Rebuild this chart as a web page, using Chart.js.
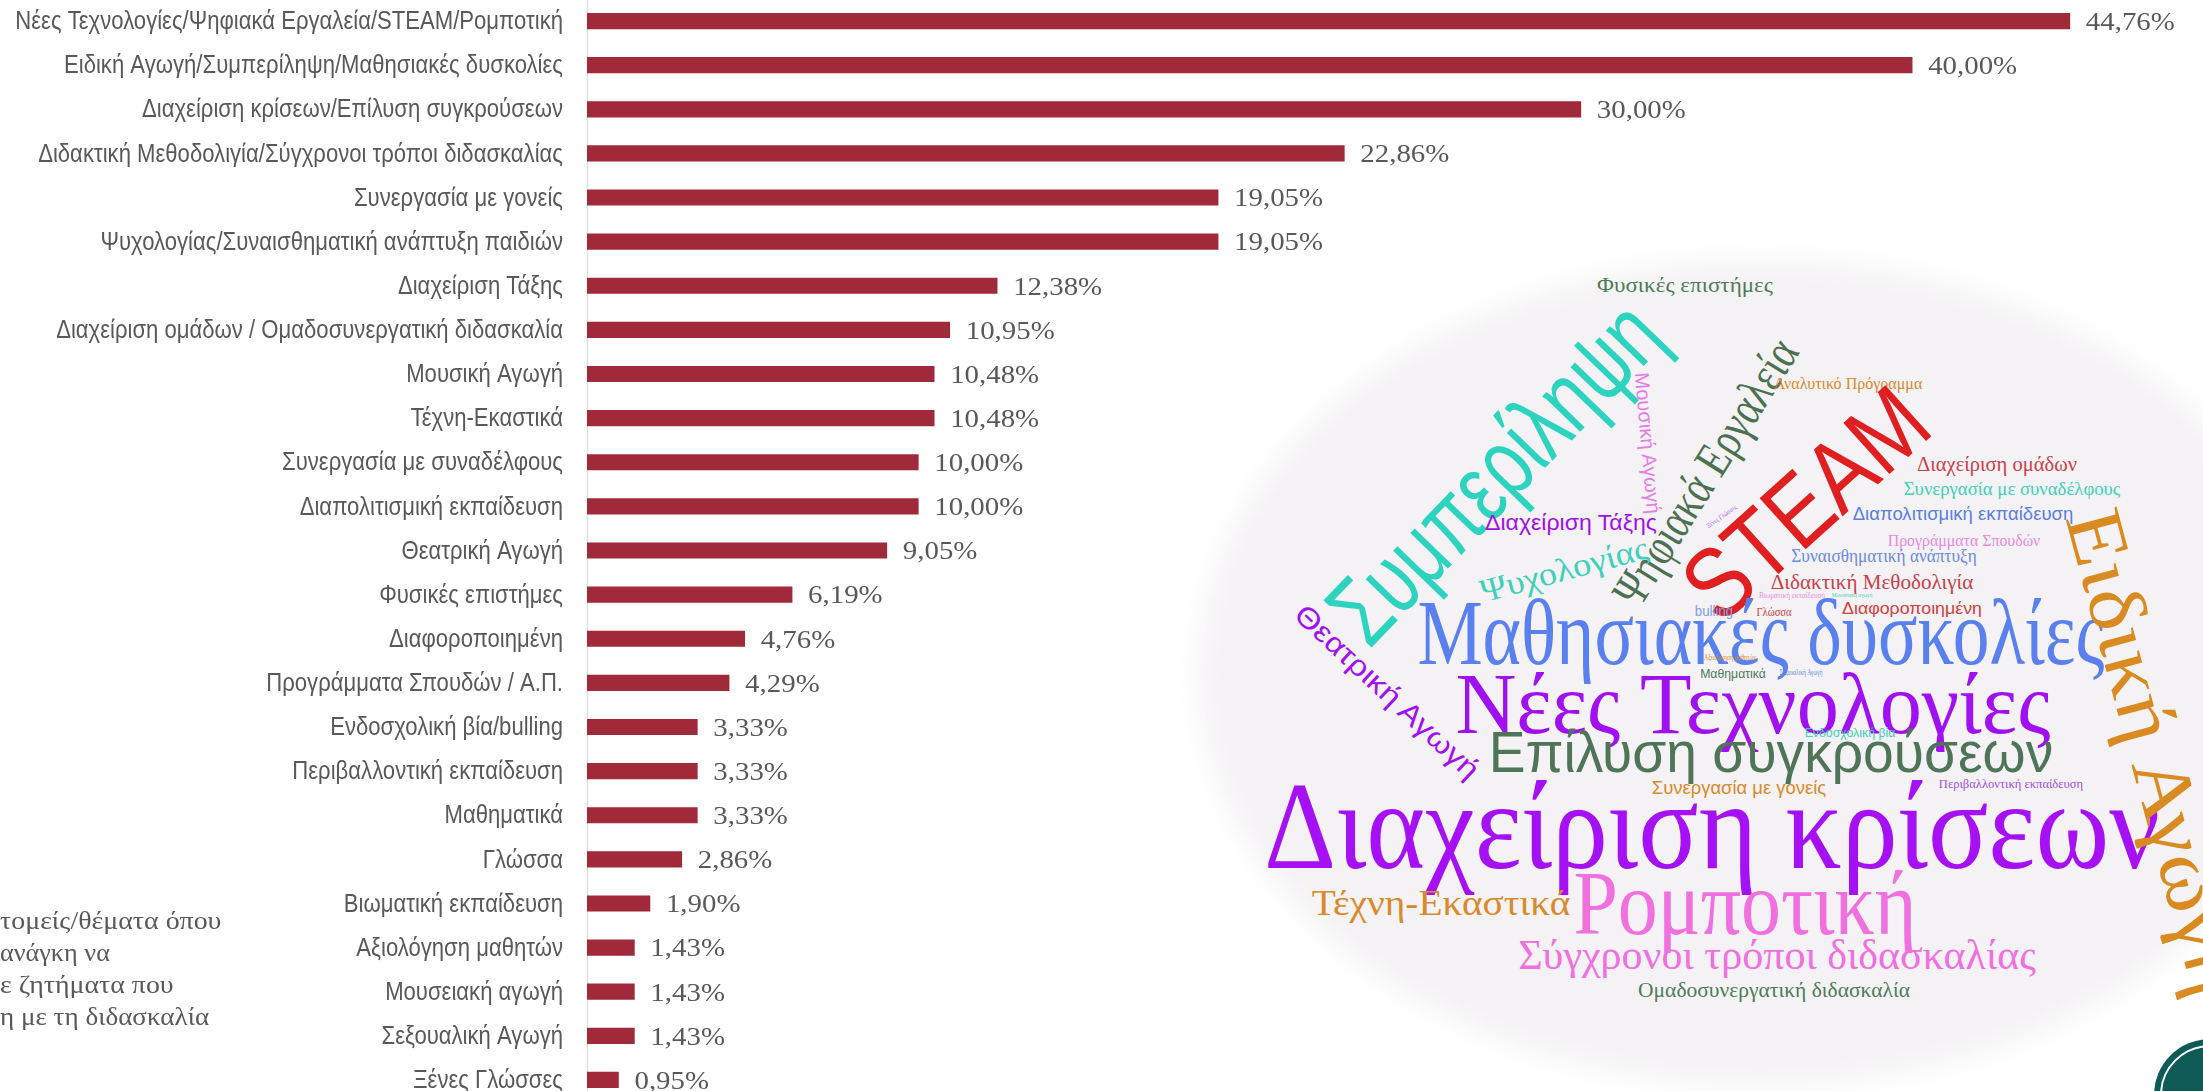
<!DOCTYPE html>
<html lang="el">
<head>
<meta charset="utf-8">
<title>Τομείς επιμόρφωσης</title>
<script src="https://cdn.jsdelivr.net/npm/chart.js@4"></script>
<style>
    html, body { margin: 0; padding: 0; background: #fff; }
    #stage { position: relative; width: 2203px; height: 1091px; overflow: hidden; background: #fff; }
    #oval { position: absolute; left: 1200px; top: 262px; width: 1120px; height: 822px; border-radius: 50%; background: #f4f2f4; filter: blur(14px); }
    #corner { position: absolute; left: 2154px; top: 1039px; width: 112px; height: 112px; border-radius: 50%; background: #0e5a56; }
    #corner::after { content: ''; position: absolute; left: 6px; top: 6px; right: 6px; bottom: 6px; border-radius: 50%; border: 2px solid #fff; }
    #chart { position: absolute; left: 0; top: -1px; }
    .w { position: absolute; white-space: nowrap; line-height: 1; }
    .s { font-family: "Liberation Serif", serif; }
    .n { font-family: "Liberation Sans", sans-serif; }
    .side { position: absolute; left: 0; white-space: nowrap; line-height: 1; color: #595959; font-family: "Liberation Serif", serif; font-size: 25px; transform-origin: 0 50%; }
</style>
</head>
<body>
<div id="stage">
    <div id="oval"></div>
    <div id="corner"></div>

    <div class="side" data-w="221" style="top:908px">τομείς/θέματα όπου</div>
    <div class="side" data-w="110" style="top:940px">ανάγκη να</div>
    <div class="side" data-w="174" style="top:972px">ε ζητήματα που</div>
    <div class="side" data-w="209" style="top:1004px">η με τη διδασκαλία</div>

    <div id="cloud">
        <span class="w s" data-w="176" style="left:1685px;top:285px;font-size:21px;color:#4f7a5a">Φυσικές επιστήμες</span>
        <span class="w n" data-w="430" data-a="-46" style="left:1494px;top:472px;font-size:98px;color:#2ed3c0">Συμπερίληψη</span>
        <span class="w n" data-w="142" data-a="85" style="left:1648px;top:443px;font-size:20px;color:#e67ae6">Μουσική Αγωγή</span>
        <span class="w s" data-w="305" data-a="-58" style="left:1705px;top:472px;font-size:50px;color:#4c7052">Ψηφιακά Εργαλεία</span>
        <span class="w s" data-w="149" style="left:1848px;top:383px;font-size:17px;color:#d98a2b">Αναλυτικό Πρόγραμμα</span>
        <span class="w n" data-w="290" data-a="-42" style="left:1805px;top:503px;font-size:100px;color:#e02020">STEAM</span>
        <span class="w s" data-w="160" style="left:1997px;top:464px;font-size:20px;color:#c9404a">Διαχείριση ομάδων</span>
        <span class="w s" data-w="217" style="left:2012px;top:488px;font-size:19px;color:#3fd0b8">Συνεργασία με συναδέλφους</span>
        <span class="w n" data-w="220" style="left:1963px;top:514px;font-size:18px;color:#5a7fe0">Διαπολιτισμική εκπαίδευση</span>
        <span class="w s" data-w="153" style="left:1964px;top:540px;font-size:17px;color:#e88ae0">Προγράμματα Σπουδών</span>
        <span class="w s" data-w="185" style="left:1884px;top:556px;font-size:18px;color:#6a8be0">Συναισθηματική ανάπτυξη</span>
        <span class="w s" data-w="203" style="left:1872px;top:582px;font-size:21px;color:#c9404a">Διδακτική Μεθοδολιγία</span>
        <span class="w s" data-w="66" style="left:1792px;top:596px;font-size:8px;color:#e88ae0">Βιωματική εκπαίδευση</span>
        <span class="w s" data-w="41" style="left:1852px;top:595px;font-size:7px;color:#3fd0b8">Μουσειακή αγωγή</span>
        <span class="w n" data-w="38" style="left:1714px;top:610px;font-size:15px;color:#7aa0e8">bulling</span>
        <span class="w s" data-w="35" style="left:1774px;top:611px;font-size:13px;color:#c9404a">Γλώσσα</span>
        <span class="w n" data-w="140" style="left:1912px;top:608px;font-size:17px;color:#d04040">Διαφοροποιημένη</span>
        <span class="w s" data-w="687" style="left:1761px;top:632px;font-size:94px;color:#5a80f0">Μαθησιακές δυσκολίες</span>
        <span class="w s" data-w="35" data-a="-35" style="left:1722px;top:517px;font-size:7px;color:#b060e8">Ξένες Γλώσσες</span>
        <span class="w s" data-w="52" style="left:1730px;top:658px;font-size:8px;color:#d98a2b">Αξιολόγηση μαθητών</span>
        <span class="w n" data-w="66" style="left:1733px;top:673px;font-size:13px;color:#4f7a5a">Μαθηματικά</span>
        <span class="w s" data-w="43" style="left:1801px;top:673px;font-size:8px;color:#6a8be0">Σεξουαλική Αγωγή</span>
        <span class="w s" data-w="595" style="left:1753px;top:704px;font-size:86px;color:#a010f0">Νέες Τεχνολογίες</span>
        <span class="w n" data-w="240" data-a="43" style="left:1387px;top:692px;font-size:29px;color:#a010f0">Θεατρική Αγωγή</span>
        <span class="w n" data-w="172" style="left:1571px;top:523px;font-size:22px;color:#a010e8">Διαχείριση Τάξης</span>
        <span class="w s" data-w="172" data-a="-15" style="left:1564px;top:570px;font-size:33px;color:#3fd0b8">Ψυχολογίας</span>
        <span class="w n" data-w="91" style="left:1850px;top:732px;font-size:13px;color:#3fd0b8">Ενδοσχολική βία</span>
        <span class="w n" data-w="565" style="left:1771px;top:752px;font-size:58px;color:#4f7558">Επίλυση συγκρούσεων</span>
        <span class="w n" data-w="174" style="left:1739px;top:788px;font-size:18px;color:#d98a2b">Συνεργασία με γονείς</span>
        <span class="w s" data-w="144" style="left:2011px;top:783px;font-size:13px;color:#a050e0">Περιβαλλοντική εκπαίδευση</span>
        <span class="w s" data-w="896" style="left:1712px;top:827px;font-size:124px;color:#a510f5">Διαχείριση κρίσεων</span>
        <span class="w s" data-w="259" style="left:1441px;top:903px;font-size:36px;color:#d98a2b">Τέχνη-Εκαστικά</span>
        <span class="w s" data-w="343" style="left:1745px;top:903px;font-size:92px;color:#f070e0">Ρομποτική</span>
        <span class="w s" data-w="518" style="left:1777px;top:955px;font-size:42px;color:#f070e0">Σύγχρονοι τρόποι διδασκαλίας</span>
        <span class="w s" data-w="272" style="left:1774px;top:990px;font-size:20px;color:#4f7a5a">Ομαδοσυνεργατική διδασκαλία</span>
        <span class="w s" data-w="500" data-a="75" style="left:2156px;top:752px;font-size:80px;color:#d98a20">Ειδική Αγωγή</span>
    </div>

    <canvas id="chart" width="2203" height="1103"></canvas>
</div>

<script>
const topics = [
    'Νέες Τεχνολογίες/Ψηφιακά Εργαλεία/STEAM/Ρομποτική',
    'Ειδική Αγωγή/Συμπερίληψη/Μαθησιακές δυσκολίες',
    'Διαχείριση κρίσεων/Επίλυση συγκρούσεων',
    'Διδακτική Μεθοδολιγία/Σύγχρονοι τρόποι διδασκαλίας',
    'Συνεργασία με γονείς',
    'Ψυχολογίας/Συναισθηματική ανάπτυξη παιδιών',
    'Διαχείριση Τάξης',
    'Διαχείριση ομάδων / Ομαδοσυνεργατική διδασκαλία',
    'Μουσική Αγωγή',
    'Τέχνη-Εκαστικά',
    'Συνεργασία με συναδέλφους',
    'Διαπολιτισμική εκπαίδευση',
    'Θεατρική Αγωγή',
    'Φυσικές επιστήμες',
    'Διαφοροποιημένη',
    'Προγράμματα Σπουδών / Α.Π.',
    'Ενδοσχολική βία/bulling',
    'Περιβαλλοντική εκπαίδευση',
    'Μαθηματικά',
    'Γλώσσα',
    'Βιωματική εκπαίδευση',
    'Αξιολόγηση μαθητών',
    'Μουσειακή αγωγή',
    'Σεξουαλική Αγωγή',
    'Ξένες Γλώσσες'
];
const percents = [44.76, 40.00, 30.00, 22.86, 19.05, 19.05, 12.38, 10.95, 10.48, 10.48, 10.00, 10.00, 9.05, 6.19, 4.76, 4.29, 3.33, 3.33, 3.33, 2.86, 1.90, 1.43, 1.43, 1.43, 0.95];

// Fit the cloud words and the cut-off side text to the widths
document.querySelectorAll('.w').forEach(el => {
    const k = parseFloat(el.dataset.w) / el.offsetWidth;
    const a = el.dataset.a || 0;
    el.style.transform = `translate(-50%,-50%) rotate(${a}deg) scaleX(${k})`;
});
document.querySelectorAll('.side').forEach(el => {
    el.style.transform = `scaleX(${parseFloat(el.dataset.w) / el.offsetWidth})`;
});

const valueLabels = {
    id: 'valueLabels',
    afterDatasetsDraw(chart) {
        const ctx = chart.ctx;
        const bars = chart.getDatasetMeta(0).data;
        ctx.save();
        ctx.font = '26px "Liberation Serif", serif';
        ctx.fillStyle = '#595959';
        ctx.textBaseline = 'middle';
        bars.forEach((bar, i) => {
            const text = percents[i].toFixed(2).replace('.', ',') + '%';
            ctx.save();
            ctx.translate(bar.x + 16, bar.y + 2);
            ctx.scale(1.11, 1);
            ctx.fillText(text, 0, 0);
            ctx.restore();
        });
        ctx.restore();
    }
};

// Narrow category labels: no narrow face is installed, so squeeze the regular one
const narrowTicks = {
    id: 'narrowTicks',
    afterDraw(chart) {
        const ctx = chart.ctx;
        const scale = chart.scales.y;
        ctx.save();
        ctx.font = '26px "Liberation Sans", sans-serif';
        ctx.fillStyle = '#595959';
        ctx.textAlign = 'right';
        ctx.textBaseline = 'middle';
        scale.ticks.forEach((tick, i) => {
            ctx.save();
            ctx.translate(scale.right - 24, scale.getPixelForTick(i) + 1);
            ctx.scale(0.85, 1);
            ctx.fillText(scale.getLabelForValue(tick.value), 0, 0);
            ctx.restore();
        });
        ctx.restore();
    }
};

new Chart(document.getElementById('chart'), {
    type: 'bar',
    data: {
        labels: topics,
        datasets: [{ data: percents, backgroundColor: '#a12a3a', barThickness: 15.5 }]
    },
    options: {
        indexAxis: 'y',
        responsive: false,
        animation: false,
        devicePixelRatio: 1,
        layout: { padding: 0 },
        plugins: { legend: { display: false }, tooltip: { enabled: false } },
        scales: {
            x: { display: false, min: 0, max: 48.78 },
            y: {
                afterFit(scale) {
                    scale.width = 587;
                    scale.paddingTop = 0;
                    scale.paddingBottom = 0;
                },
                grid: { display: false, drawTicks: false },
                border: { display: true, color: '#d9d9d9', width: 1 },
                ticks: { display: false, autoSkip: false }
            }
        }
    },
    plugins: [valueLabels, narrowTicks]
});
</script>
</body>
</html>
